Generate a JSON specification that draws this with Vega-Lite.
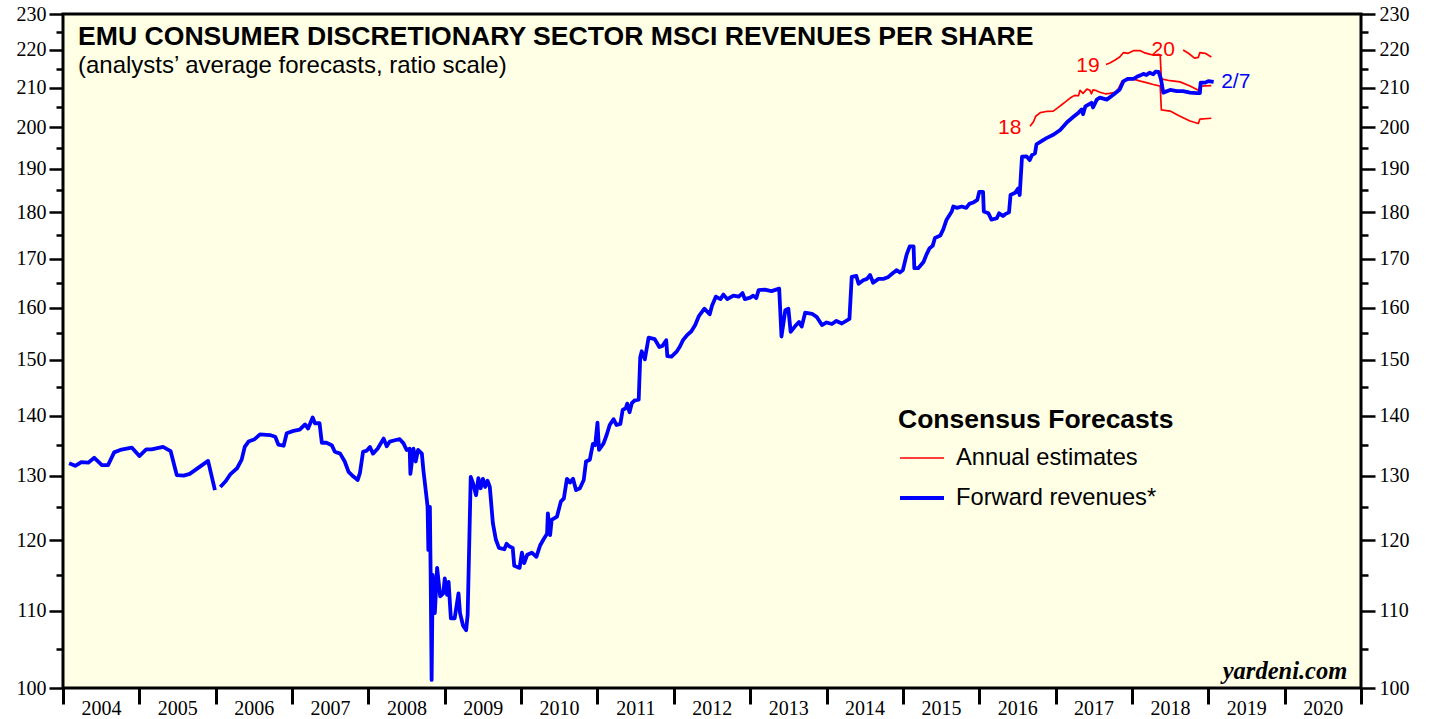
{
  "$schema": "https://vega.github.io/schema/vega-lite/v6.json",
  "width": 1298,
  "height": 674,
  "autosize": {"type": "none"},
  "padding": {"left": 63, "top": 14, "right": 68, "bottom": 31},
  "background": "#FFFFFF",
  "config": {
    "view": {"fill": "#FFFFE6", "stroke": "#000000", "strokeWidth": 3},
    "font": "Liberation Sans"
  },
  "title": {
    "text": "EMU CONSUMER DISCRETIONARY SECTOR MSCI REVENUES PER SHARE",
    "subtitle": "(analysts’ average forecasts, ratio scale)",
    "anchor": "start",
    "frame": "group",
    "offset": -74,
    "dx": 15,
    "font": "Liberation Sans",
    "fontSize": 26.6,
    "fontWeight": "bold",
    "color": "#000000",
    "subtitleFont": "Liberation Sans",
    "subtitleFontSize": 24,
    "subtitleColor": "#000000",
    "subtitlePadding": 3
  },
  "datasets": {
    "est": [
      {"year": 2016.665, "v": 200.2, "series": "Annual estimates", "line": "2018"},
      {"year": 2016.71, "v": 201.3, "series": "Annual estimates", "line": "2018"},
      {"year": 2016.74, "v": 202.7, "series": "Annual estimates", "line": "2018"},
      {"year": 2016.80, "v": 203.6, "series": "Annual estimates", "line": "2018"},
      {"year": 2016.88, "v": 203.9, "series": "Annual estimates", "line": "2018"},
      {"year": 2016.97, "v": 204.0, "series": "Annual estimates", "line": "2018"},
      {"year": 2017.04, "v": 205.0, "series": "Annual estimates", "line": "2018"},
      {"year": 2017.08, "v": 205.6, "series": "Annual estimates", "line": "2018"},
      {"year": 2017.12, "v": 206.2, "series": "Annual estimates", "line": "2018"},
      {"year": 2017.19, "v": 207.3, "series": "Annual estimates", "line": "2018"},
      {"year": 2017.25, "v": 208.0, "series": "Annual estimates", "line": "2018"},
      {"year": 2017.30, "v": 207.9, "series": "Annual estimates", "line": "2018"},
      {"year": 2017.32, "v": 209.3, "series": "Annual estimates", "line": "2018"},
      {"year": 2017.36, "v": 208.5, "series": "Annual estimates", "line": "2018"},
      {"year": 2017.41, "v": 209.6, "series": "Annual estimates", "line": "2018"},
      {"year": 2017.45, "v": 209.3, "series": "Annual estimates", "line": "2018"},
      {"year": 2017.47, "v": 208.4, "series": "Annual estimates", "line": "2018"},
      {"year": 2017.49, "v": 209.4, "series": "Annual estimates", "line": "2018"},
      {"year": 2017.52, "v": 209.3, "series": "Annual estimates", "line": "2018"},
      {"year": 2017.58, "v": 208.8, "series": "Annual estimates", "line": "2018"},
      {"year": 2017.65, "v": 208.4, "series": "Annual estimates", "line": "2018"},
      {"year": 2017.71, "v": 208.5, "series": "Annual estimates", "line": "2018"},
      {"year": 2017.78, "v": 208.8, "series": "Annual estimates", "line": "2018"},
      {"year": 2017.82, "v": 209.6, "series": "Annual estimates", "line": "2018"},
      {"year": 2017.87, "v": 211.7, "series": "Annual estimates", "line": "2018"},
      {"year": 2017.93, "v": 212.0, "series": "Annual estimates", "line": "2018"},
      {"year": 2018.02, "v": 212.2, "series": "Annual estimates", "line": "2018"},
      {"year": 2018.11, "v": 211.7, "series": "Annual estimates", "line": "2018"},
      {"year": 2018.19, "v": 211.3, "series": "Annual estimates", "line": "2018"},
      {"year": 2018.28, "v": 210.8, "series": "Annual estimates", "line": "2018"},
      {"year": 2018.37, "v": 210.4, "series": "Annual estimates", "line": "2018"},
      {"year": 2018.385, "v": 204.3, "series": "Annual estimates", "line": "2018"},
      {"year": 2018.50, "v": 204.0, "series": "Annual estimates", "line": "2018"},
      {"year": 2018.63, "v": 202.7, "series": "Annual estimates", "line": "2018"},
      {"year": 2018.76, "v": 201.5, "series": "Annual estimates", "line": "2018"},
      {"year": 2018.87, "v": 200.9, "series": "Annual estimates", "line": "2018"},
      {"year": 2018.89, "v": 202.0, "series": "Annual estimates", "line": "2018"},
      {"year": 2019.04, "v": 202.2, "series": "Annual estimates", "line": "2018"},
      {"year": 2017.66, "v": 216.1, "series": "Annual estimates", "line": "2019"},
      {"year": 2017.71, "v": 216.5, "series": "Annual estimates", "line": "2019"},
      {"year": 2017.78, "v": 217.3, "series": "Annual estimates", "line": "2019"},
      {"year": 2017.84, "v": 218.1, "series": "Annual estimates", "line": "2019"},
      {"year": 2017.89, "v": 219.3, "series": "Annual estimates", "line": "2019"},
      {"year": 2017.95, "v": 219.1, "series": "Annual estimates", "line": "2019"},
      {"year": 2018.02, "v": 219.8, "series": "Annual estimates", "line": "2019"},
      {"year": 2018.11, "v": 219.8, "series": "Annual estimates", "line": "2019"},
      {"year": 2018.17, "v": 219.2, "series": "Annual estimates", "line": "2019"},
      {"year": 2018.24, "v": 218.8, "series": "Annual estimates", "line": "2019"},
      {"year": 2018.30, "v": 218.6, "series": "Annual estimates", "line": "2019"},
      {"year": 2018.35, "v": 218.8, "series": "Annual estimates", "line": "2019"},
      {"year": 2018.37, "v": 218.6, "series": "Annual estimates", "line": "2019"},
      {"year": 2018.385, "v": 212.3, "series": "Annual estimates", "line": "2019"},
      {"year": 2018.50, "v": 211.8, "series": "Annual estimates", "line": "2019"},
      {"year": 2018.63, "v": 211.5, "series": "Annual estimates", "line": "2019"},
      {"year": 2018.76, "v": 210.4, "series": "Annual estimates", "line": "2019"},
      {"year": 2018.87, "v": 209.3, "series": "Annual estimates", "line": "2019"},
      {"year": 2018.89, "v": 210.4, "series": "Annual estimates", "line": "2019"},
      {"year": 2019.04, "v": 210.5, "series": "Annual estimates", "line": "2019"},
      {"year": 2018.67, "v": 220.0, "series": "Annual estimates", "line": "2020"},
      {"year": 2018.74, "v": 219.1, "series": "Annual estimates", "line": "2020"},
      {"year": 2018.82, "v": 217.8, "series": "Annual estimates", "line": "2020"},
      {"year": 2018.87, "v": 218.0, "series": "Annual estimates", "line": "2020"},
      {"year": 2018.89, "v": 219.3, "series": "Annual estimates", "line": "2020"},
      {"year": 2018.96, "v": 219.1, "series": "Annual estimates", "line": "2020"},
      {"year": 2019.04, "v": 218.1, "series": "Annual estimates", "line": "2020"}
    ],
    "fwd": [
      {"year": 2004.08, "v": 132.0, "series": "Forward revenues*", "line": "a"},
      {"year": 2004.16, "v": 131.6, "series": "Forward revenues*", "line": "a"},
      {"year": 2004.24, "v": 132.2, "series": "Forward revenues*", "line": "a"},
      {"year": 2004.33, "v": 132.1, "series": "Forward revenues*", "line": "a"},
      {"year": 2004.41, "v": 132.9, "series": "Forward revenues*", "line": "a"},
      {"year": 2004.51, "v": 131.7, "series": "Forward revenues*", "line": "a"},
      {"year": 2004.59, "v": 131.7, "series": "Forward revenues*", "line": "a"},
      {"year": 2004.67, "v": 133.8, "series": "Forward revenues*", "line": "a"},
      {"year": 2004.75, "v": 134.2, "series": "Forward revenues*", "line": "a"},
      {"year": 2004.90, "v": 134.6, "series": "Forward revenues*", "line": "a"},
      {"year": 2005.00, "v": 133.2, "series": "Forward revenues*", "line": "a"},
      {"year": 2005.09, "v": 134.3, "series": "Forward revenues*", "line": "a"},
      {"year": 2005.16, "v": 134.3, "series": "Forward revenues*", "line": "a"},
      {"year": 2005.31, "v": 134.7, "series": "Forward revenues*", "line": "a"},
      {"year": 2005.41, "v": 134.0, "series": "Forward revenues*", "line": "a"},
      {"year": 2005.49, "v": 130.1, "series": "Forward revenues*", "line": "a"},
      {"year": 2005.58, "v": 130.0, "series": "Forward revenues*", "line": "a"},
      {"year": 2005.66, "v": 130.3, "series": "Forward revenues*", "line": "a"},
      {"year": 2005.90, "v": 132.4, "series": "Forward revenues*", "line": "a"},
      {"year": 2005.99, "v": 127.7, "series": "Forward revenues*", "line": "a"},
      {"year": 2006.06, "v": 128.2, "series": "Forward revenues*", "line": "b"},
      {"year": 2006.13, "v": 129.1, "series": "Forward revenues*", "line": "b"},
      {"year": 2006.19, "v": 130.2, "series": "Forward revenues*", "line": "b"},
      {"year": 2006.28, "v": 131.2, "series": "Forward revenues*", "line": "b"},
      {"year": 2006.34, "v": 132.6, "series": "Forward revenues*", "line": "b"},
      {"year": 2006.38, "v": 134.7, "series": "Forward revenues*", "line": "b"},
      {"year": 2006.43, "v": 135.6, "series": "Forward revenues*", "line": "b"},
      {"year": 2006.51, "v": 136.0, "series": "Forward revenues*", "line": "b"},
      {"year": 2006.58, "v": 136.8, "series": "Forward revenues*", "line": "b"},
      {"year": 2006.71, "v": 136.7, "series": "Forward revenues*", "line": "b"},
      {"year": 2006.78, "v": 136.4, "series": "Forward revenues*", "line": "b"},
      {"year": 2006.82, "v": 135.1, "series": "Forward revenues*", "line": "b"},
      {"year": 2006.89, "v": 134.9, "series": "Forward revenues*", "line": "b"},
      {"year": 2006.93, "v": 137.0, "series": "Forward revenues*", "line": "b"},
      {"year": 2007.02, "v": 137.4, "series": "Forward revenues*", "line": "b"},
      {"year": 2007.10, "v": 137.6, "series": "Forward revenues*", "line": "b"},
      {"year": 2007.17, "v": 138.5, "series": "Forward revenues*", "line": "b"},
      {"year": 2007.21, "v": 137.8, "series": "Forward revenues*", "line": "b"},
      {"year": 2007.27, "v": 139.7, "series": "Forward revenues*", "line": "b"},
      {"year": 2007.30, "v": 138.7, "series": "Forward revenues*", "line": "b"},
      {"year": 2007.36, "v": 138.7, "series": "Forward revenues*", "line": "b"},
      {"year": 2007.39, "v": 135.4, "series": "Forward revenues*", "line": "b"},
      {"year": 2007.45, "v": 135.4, "series": "Forward revenues*", "line": "b"},
      {"year": 2007.52, "v": 135.0, "series": "Forward revenues*", "line": "b"},
      {"year": 2007.56, "v": 133.9, "series": "Forward revenues*", "line": "b"},
      {"year": 2007.63, "v": 133.6, "series": "Forward revenues*", "line": "b"},
      {"year": 2007.69, "v": 132.3, "series": "Forward revenues*", "line": "b"},
      {"year": 2007.74, "v": 130.6, "series": "Forward revenues*", "line": "b"},
      {"year": 2007.80, "v": 129.9, "series": "Forward revenues*", "line": "b"},
      {"year": 2007.86, "v": 129.3, "series": "Forward revenues*", "line": "b"},
      {"year": 2007.89, "v": 130.5, "series": "Forward revenues*", "line": "b"},
      {"year": 2007.93, "v": 133.9, "series": "Forward revenues*", "line": "b"},
      {"year": 2007.98, "v": 134.1, "series": "Forward revenues*", "line": "b"},
      {"year": 2008.02, "v": 134.7, "series": "Forward revenues*", "line": "b"},
      {"year": 2008.06, "v": 133.6, "series": "Forward revenues*", "line": "b"},
      {"year": 2008.12, "v": 134.4, "series": "Forward revenues*", "line": "b"},
      {"year": 2008.20, "v": 136.1, "series": "Forward revenues*", "line": "b"},
      {"year": 2008.24, "v": 134.8, "series": "Forward revenues*", "line": "b"},
      {"year": 2008.28, "v": 135.6, "series": "Forward revenues*", "line": "b"},
      {"year": 2008.37, "v": 135.9, "series": "Forward revenues*", "line": "b"},
      {"year": 2008.41, "v": 136.0, "series": "Forward revenues*", "line": "b"},
      {"year": 2008.46, "v": 135.3, "series": "Forward revenues*", "line": "b"},
      {"year": 2008.50, "v": 134.2, "series": "Forward revenues*", "line": "b"},
      {"year": 2008.54, "v": 134.4, "series": "Forward revenues*", "line": "b"},
      {"year": 2008.55, "v": 130.3, "series": "Forward revenues*", "line": "b"},
      {"year": 2008.59, "v": 134.4, "series": "Forward revenues*", "line": "b"},
      {"year": 2008.62, "v": 132.3, "series": "Forward revenues*", "line": "b"},
      {"year": 2008.65, "v": 134.2, "series": "Forward revenues*", "line": "b"},
      {"year": 2008.70, "v": 133.6, "series": "Forward revenues*", "line": "b"},
      {"year": 2008.72, "v": 130.9, "series": "Forward revenues*", "line": "b"},
      {"year": 2008.76, "v": 126.7, "series": "Forward revenues*", "line": "b"},
      {"year": 2008.775, "v": 125.1, "series": "Forward revenues*", "line": "b"},
      {"year": 2008.785, "v": 118.6, "series": "Forward revenues*", "line": "b"},
      {"year": 2008.805, "v": 125.1, "series": "Forward revenues*", "line": "b"},
      {"year": 2008.815, "v": 115.2, "series": "Forward revenues*", "line": "b"},
      {"year": 2008.828, "v": 101.0, "series": "Forward revenues*", "line": "b"},
      {"year": 2008.842, "v": 115.0, "series": "Forward revenues*", "line": "b"},
      {"year": 2008.87, "v": 109.7, "series": "Forward revenues*", "line": "b"},
      {"year": 2008.90, "v": 116.0, "series": "Forward revenues*", "line": "b"},
      {"year": 2008.94, "v": 112.0, "series": "Forward revenues*", "line": "b"},
      {"year": 2008.98, "v": 112.4, "series": "Forward revenues*", "line": "b"},
      {"year": 2009.00, "v": 114.5, "series": "Forward revenues*", "line": "b"},
      {"year": 2009.03, "v": 112.2, "series": "Forward revenues*", "line": "b"},
      {"year": 2009.05, "v": 114.0, "series": "Forward revenues*", "line": "b"},
      {"year": 2009.08, "v": 109.0, "series": "Forward revenues*", "line": "b"},
      {"year": 2009.13, "v": 109.0, "series": "Forward revenues*", "line": "b"},
      {"year": 2009.18, "v": 112.4, "series": "Forward revenues*", "line": "b"},
      {"year": 2009.20, "v": 109.7, "series": "Forward revenues*", "line": "b"},
      {"year": 2009.24, "v": 108.0, "series": "Forward revenues*", "line": "b"},
      {"year": 2009.28, "v": 107.4, "series": "Forward revenues*", "line": "b"},
      {"year": 2009.30, "v": 109.5, "series": "Forward revenues*", "line": "b"},
      {"year": 2009.34, "v": 129.8, "series": "Forward revenues*", "line": "b"},
      {"year": 2009.37, "v": 128.8, "series": "Forward revenues*", "line": "b"},
      {"year": 2009.41, "v": 126.9, "series": "Forward revenues*", "line": "b"},
      {"year": 2009.44, "v": 129.6, "series": "Forward revenues*", "line": "b"},
      {"year": 2009.47, "v": 128.0, "series": "Forward revenues*", "line": "b"},
      {"year": 2009.50, "v": 129.5, "series": "Forward revenues*", "line": "b"},
      {"year": 2009.53, "v": 128.2, "series": "Forward revenues*", "line": "b"},
      {"year": 2009.56, "v": 129.2, "series": "Forward revenues*", "line": "b"},
      {"year": 2009.59, "v": 128.2, "series": "Forward revenues*", "line": "b"},
      {"year": 2009.63, "v": 122.6, "series": "Forward revenues*", "line": "b"},
      {"year": 2009.67, "v": 120.1, "series": "Forward revenues*", "line": "b"},
      {"year": 2009.71, "v": 118.9, "series": "Forward revenues*", "line": "b"},
      {"year": 2009.78, "v": 118.7, "series": "Forward revenues*", "line": "b"},
      {"year": 2009.81, "v": 119.5, "series": "Forward revenues*", "line": "b"},
      {"year": 2009.85, "v": 119.1, "series": "Forward revenues*", "line": "b"},
      {"year": 2009.89, "v": 118.9, "series": "Forward revenues*", "line": "b"},
      {"year": 2009.91, "v": 116.3, "series": "Forward revenues*", "line": "b"},
      {"year": 2009.98, "v": 116.0, "series": "Forward revenues*", "line": "b"},
      {"year": 2010.01, "v": 118.2, "series": "Forward revenues*", "line": "b"},
      {"year": 2010.04, "v": 116.7, "series": "Forward revenues*", "line": "b"},
      {"year": 2010.08, "v": 117.9, "series": "Forward revenues*", "line": "b"},
      {"year": 2010.14, "v": 118.2, "series": "Forward revenues*", "line": "b"},
      {"year": 2010.20, "v": 117.6, "series": "Forward revenues*", "line": "b"},
      {"year": 2010.25, "v": 119.3, "series": "Forward revenues*", "line": "b"},
      {"year": 2010.30, "v": 120.3, "series": "Forward revenues*", "line": "b"},
      {"year": 2010.34, "v": 121.0, "series": "Forward revenues*", "line": "b"},
      {"year": 2010.35, "v": 124.1, "series": "Forward revenues*", "line": "b"},
      {"year": 2010.38, "v": 120.8, "series": "Forward revenues*", "line": "b"},
      {"year": 2010.40, "v": 123.1, "series": "Forward revenues*", "line": "b"},
      {"year": 2010.47, "v": 123.6, "series": "Forward revenues*", "line": "b"},
      {"year": 2010.52, "v": 125.9, "series": "Forward revenues*", "line": "b"},
      {"year": 2010.56, "v": 126.4, "series": "Forward revenues*", "line": "b"},
      {"year": 2010.60, "v": 129.5, "series": "Forward revenues*", "line": "b"},
      {"year": 2010.64, "v": 128.9, "series": "Forward revenues*", "line": "b"},
      {"year": 2010.68, "v": 129.5, "series": "Forward revenues*", "line": "b"},
      {"year": 2010.72, "v": 127.7, "series": "Forward revenues*", "line": "b"},
      {"year": 2010.77, "v": 128.0, "series": "Forward revenues*", "line": "b"},
      {"year": 2010.82, "v": 129.3, "series": "Forward revenues*", "line": "b"},
      {"year": 2010.85, "v": 132.3, "series": "Forward revenues*", "line": "b"},
      {"year": 2010.90, "v": 132.6, "series": "Forward revenues*", "line": "b"},
      {"year": 2010.94, "v": 135.2, "series": "Forward revenues*", "line": "b"},
      {"year": 2010.97, "v": 135.0, "series": "Forward revenues*", "line": "b"},
      {"year": 2011.00, "v": 138.8, "series": "Forward revenues*", "line": "b"},
      {"year": 2011.02, "v": 134.2, "series": "Forward revenues*", "line": "b"},
      {"year": 2011.08, "v": 135.3, "series": "Forward revenues*", "line": "b"},
      {"year": 2011.12, "v": 136.7, "series": "Forward revenues*", "line": "b"},
      {"year": 2011.16, "v": 138.4, "series": "Forward revenues*", "line": "b"},
      {"year": 2011.21, "v": 139.4, "series": "Forward revenues*", "line": "b"},
      {"year": 2011.25, "v": 138.4, "series": "Forward revenues*", "line": "b"},
      {"year": 2011.30, "v": 138.6, "series": "Forward revenues*", "line": "b"},
      {"year": 2011.33, "v": 141.0, "series": "Forward revenues*", "line": "b"},
      {"year": 2011.37, "v": 141.3, "series": "Forward revenues*", "line": "b"},
      {"year": 2011.39, "v": 142.1, "series": "Forward revenues*", "line": "b"},
      {"year": 2011.42, "v": 140.6, "series": "Forward revenues*", "line": "b"},
      {"year": 2011.45, "v": 142.2, "series": "Forward revenues*", "line": "b"},
      {"year": 2011.49, "v": 142.7, "series": "Forward revenues*", "line": "b"},
      {"year": 2011.54, "v": 142.8, "series": "Forward revenues*", "line": "b"},
      {"year": 2011.56, "v": 150.5, "series": "Forward revenues*", "line": "b"},
      {"year": 2011.58, "v": 151.6, "series": "Forward revenues*", "line": "b"},
      {"year": 2011.62, "v": 150.1, "series": "Forward revenues*", "line": "b"},
      {"year": 2011.67, "v": 154.2, "series": "Forward revenues*", "line": "b"},
      {"year": 2011.75, "v": 153.9, "series": "Forward revenues*", "line": "b"},
      {"year": 2011.81, "v": 152.4, "series": "Forward revenues*", "line": "b"},
      {"year": 2011.85, "v": 152.6, "series": "Forward revenues*", "line": "b"},
      {"year": 2011.90, "v": 153.7, "series": "Forward revenues*", "line": "b"},
      {"year": 2011.915, "v": 150.7, "series": "Forward revenues*", "line": "b"},
      {"year": 2011.97, "v": 150.6, "series": "Forward revenues*", "line": "b"},
      {"year": 2012.04, "v": 151.6, "series": "Forward revenues*", "line": "b"},
      {"year": 2012.08, "v": 152.5, "series": "Forward revenues*", "line": "b"},
      {"year": 2012.12, "v": 153.7, "series": "Forward revenues*", "line": "b"},
      {"year": 2012.17, "v": 154.6, "series": "Forward revenues*", "line": "b"},
      {"year": 2012.23, "v": 155.4, "series": "Forward revenues*", "line": "b"},
      {"year": 2012.28, "v": 156.6, "series": "Forward revenues*", "line": "b"},
      {"year": 2012.33, "v": 158.4, "series": "Forward revenues*", "line": "b"},
      {"year": 2012.40, "v": 159.8, "series": "Forward revenues*", "line": "b"},
      {"year": 2012.47, "v": 158.7, "series": "Forward revenues*", "line": "b"},
      {"year": 2012.50, "v": 160.4, "series": "Forward revenues*", "line": "b"},
      {"year": 2012.55, "v": 162.2, "series": "Forward revenues*", "line": "b"},
      {"year": 2012.61, "v": 161.7, "series": "Forward revenues*", "line": "b"},
      {"year": 2012.65, "v": 162.6, "series": "Forward revenues*", "line": "b"},
      {"year": 2012.70, "v": 161.7, "series": "Forward revenues*", "line": "b"},
      {"year": 2012.78, "v": 162.4, "series": "Forward revenues*", "line": "b"},
      {"year": 2012.85, "v": 162.2, "series": "Forward revenues*", "line": "b"},
      {"year": 2012.90, "v": 162.9, "series": "Forward revenues*", "line": "b"},
      {"year": 2012.93, "v": 161.7, "series": "Forward revenues*", "line": "b"},
      {"year": 2013.00, "v": 162.0, "series": "Forward revenues*", "line": "b"},
      {"year": 2013.04, "v": 162.4, "series": "Forward revenues*", "line": "b"},
      {"year": 2013.08, "v": 161.9, "series": "Forward revenues*", "line": "b"},
      {"year": 2013.11, "v": 163.5, "series": "Forward revenues*", "line": "b"},
      {"year": 2013.19, "v": 163.6, "series": "Forward revenues*", "line": "b"},
      {"year": 2013.28, "v": 163.3, "series": "Forward revenues*", "line": "b"},
      {"year": 2013.38, "v": 163.8, "series": "Forward revenues*", "line": "b"},
      {"year": 2013.41, "v": 154.4, "series": "Forward revenues*", "line": "b"},
      {"year": 2013.46, "v": 159.5, "series": "Forward revenues*", "line": "b"},
      {"year": 2013.50, "v": 159.8, "series": "Forward revenues*", "line": "b"},
      {"year": 2013.53, "v": 155.3, "series": "Forward revenues*", "line": "b"},
      {"year": 2013.59, "v": 156.4, "series": "Forward revenues*", "line": "b"},
      {"year": 2013.64, "v": 157.2, "series": "Forward revenues*", "line": "b"},
      {"year": 2013.675, "v": 156.3, "series": "Forward revenues*", "line": "b"},
      {"year": 2013.72, "v": 159.0, "series": "Forward revenues*", "line": "b"},
      {"year": 2013.81, "v": 158.8, "series": "Forward revenues*", "line": "b"},
      {"year": 2013.87, "v": 158.2, "series": "Forward revenues*", "line": "b"},
      {"year": 2013.94, "v": 156.6, "series": "Forward revenues*", "line": "b"},
      {"year": 2014.00, "v": 157.1, "series": "Forward revenues*", "line": "b"},
      {"year": 2014.07, "v": 156.8, "series": "Forward revenues*", "line": "b"},
      {"year": 2014.13, "v": 157.4, "series": "Forward revenues*", "line": "b"},
      {"year": 2014.20, "v": 156.9, "series": "Forward revenues*", "line": "b"},
      {"year": 2014.30, "v": 157.8, "series": "Forward revenues*", "line": "b"},
      {"year": 2014.33, "v": 166.2, "series": "Forward revenues*", "line": "b"},
      {"year": 2014.39, "v": 166.4, "series": "Forward revenues*", "line": "b"},
      {"year": 2014.42, "v": 164.8, "series": "Forward revenues*", "line": "b"},
      {"year": 2014.48, "v": 165.5, "series": "Forward revenues*", "line": "b"},
      {"year": 2014.53, "v": 165.8, "series": "Forward revenues*", "line": "b"},
      {"year": 2014.57, "v": 166.6, "series": "Forward revenues*", "line": "b"},
      {"year": 2014.61, "v": 165.0, "series": "Forward revenues*", "line": "b"},
      {"year": 2014.68, "v": 165.8, "series": "Forward revenues*", "line": "b"},
      {"year": 2014.75, "v": 165.8, "series": "Forward revenues*", "line": "b"},
      {"year": 2014.81, "v": 166.2, "series": "Forward revenues*", "line": "b"},
      {"year": 2014.87, "v": 167.0, "series": "Forward revenues*", "line": "b"},
      {"year": 2014.92, "v": 167.6, "series": "Forward revenues*", "line": "b"},
      {"year": 2014.96, "v": 167.1, "series": "Forward revenues*", "line": "b"},
      {"year": 2015.00, "v": 167.6, "series": "Forward revenues*", "line": "b"},
      {"year": 2015.05, "v": 170.9, "series": "Forward revenues*", "line": "b"},
      {"year": 2015.09, "v": 172.6, "series": "Forward revenues*", "line": "b"},
      {"year": 2015.14, "v": 172.6, "series": "Forward revenues*", "line": "b"},
      {"year": 2015.15, "v": 168.0, "series": "Forward revenues*", "line": "b"},
      {"year": 2015.20, "v": 168.0, "series": "Forward revenues*", "line": "b"},
      {"year": 2015.27, "v": 169.3, "series": "Forward revenues*", "line": "b"},
      {"year": 2015.31, "v": 170.9, "series": "Forward revenues*", "line": "b"},
      {"year": 2015.35, "v": 172.2, "series": "Forward revenues*", "line": "b"},
      {"year": 2015.39, "v": 172.7, "series": "Forward revenues*", "line": "b"},
      {"year": 2015.42, "v": 174.4, "series": "Forward revenues*", "line": "b"},
      {"year": 2015.49, "v": 174.9, "series": "Forward revenues*", "line": "b"},
      {"year": 2015.53, "v": 176.3, "series": "Forward revenues*", "line": "b"},
      {"year": 2015.57, "v": 178.3, "series": "Forward revenues*", "line": "b"},
      {"year": 2015.64, "v": 180.2, "series": "Forward revenues*", "line": "b"},
      {"year": 2015.66, "v": 181.3, "series": "Forward revenues*", "line": "b"},
      {"year": 2015.71, "v": 181.0, "series": "Forward revenues*", "line": "b"},
      {"year": 2015.77, "v": 181.3, "series": "Forward revenues*", "line": "b"},
      {"year": 2015.83, "v": 181.0, "series": "Forward revenues*", "line": "b"},
      {"year": 2015.87, "v": 181.9, "series": "Forward revenues*", "line": "b"},
      {"year": 2015.92, "v": 182.2, "series": "Forward revenues*", "line": "b"},
      {"year": 2015.975, "v": 182.8, "series": "Forward revenues*", "line": "b"},
      {"year": 2016.00, "v": 184.6, "series": "Forward revenues*", "line": "b"},
      {"year": 2016.05, "v": 184.6, "series": "Forward revenues*", "line": "b"},
      {"year": 2016.06, "v": 180.2, "series": "Forward revenues*", "line": "b"},
      {"year": 2016.12, "v": 179.8, "series": "Forward revenues*", "line": "b"},
      {"year": 2016.16, "v": 178.4, "series": "Forward revenues*", "line": "b"},
      {"year": 2016.23, "v": 178.7, "series": "Forward revenues*", "line": "b"},
      {"year": 2016.26, "v": 179.8, "series": "Forward revenues*", "line": "b"},
      {"year": 2016.31, "v": 179.2, "series": "Forward revenues*", "line": "b"},
      {"year": 2016.34, "v": 179.6, "series": "Forward revenues*", "line": "b"},
      {"year": 2016.39, "v": 180.0, "series": "Forward revenues*", "line": "b"},
      {"year": 2016.41, "v": 183.9, "series": "Forward revenues*", "line": "b"},
      {"year": 2016.47, "v": 184.4, "series": "Forward revenues*", "line": "b"},
      {"year": 2016.51, "v": 185.4, "series": "Forward revenues*", "line": "b"},
      {"year": 2016.53, "v": 183.9, "series": "Forward revenues*", "line": "b"},
      {"year": 2016.56, "v": 192.8, "series": "Forward revenues*", "line": "b"},
      {"year": 2016.62, "v": 192.9, "series": "Forward revenues*", "line": "b"},
      {"year": 2016.66, "v": 192.0, "series": "Forward revenues*", "line": "b"},
      {"year": 2016.69, "v": 193.2, "series": "Forward revenues*", "line": "b"},
      {"year": 2016.73, "v": 193.6, "series": "Forward revenues*", "line": "b"},
      {"year": 2016.75, "v": 195.8, "series": "Forward revenues*", "line": "b"},
      {"year": 2016.80, "v": 196.4, "series": "Forward revenues*", "line": "b"},
      {"year": 2016.88, "v": 197.3, "series": "Forward revenues*", "line": "b"},
      {"year": 2016.97, "v": 198.1, "series": "Forward revenues*", "line": "b"},
      {"year": 2017.06, "v": 199.3, "series": "Forward revenues*", "line": "b"},
      {"year": 2017.15, "v": 201.2, "series": "Forward revenues*", "line": "b"},
      {"year": 2017.23, "v": 202.5, "series": "Forward revenues*", "line": "b"},
      {"year": 2017.30, "v": 203.6, "series": "Forward revenues*", "line": "b"},
      {"year": 2017.34, "v": 204.4, "series": "Forward revenues*", "line": "b"},
      {"year": 2017.36, "v": 203.2, "series": "Forward revenues*", "line": "b"},
      {"year": 2017.39, "v": 205.2, "series": "Forward revenues*", "line": "b"},
      {"year": 2017.47, "v": 206.1, "series": "Forward revenues*", "line": "b"},
      {"year": 2017.49, "v": 204.9, "series": "Forward revenues*", "line": "b"},
      {"year": 2017.54, "v": 206.9, "series": "Forward revenues*", "line": "b"},
      {"year": 2017.58, "v": 207.4, "series": "Forward revenues*", "line": "b"},
      {"year": 2017.67, "v": 206.9, "series": "Forward revenues*", "line": "b"},
      {"year": 2017.76, "v": 208.2, "series": "Forward revenues*", "line": "b"},
      {"year": 2017.84, "v": 209.5, "series": "Forward revenues*", "line": "b"},
      {"year": 2017.89, "v": 211.7, "series": "Forward revenues*", "line": "b"},
      {"year": 2017.95, "v": 212.3, "series": "Forward revenues*", "line": "b"},
      {"year": 2018.02, "v": 212.3, "series": "Forward revenues*", "line": "b"},
      {"year": 2018.07, "v": 212.9, "series": "Forward revenues*", "line": "b"},
      {"year": 2018.11, "v": 213.2, "series": "Forward revenues*", "line": "b"},
      {"year": 2018.15, "v": 213.6, "series": "Forward revenues*", "line": "b"},
      {"year": 2018.19, "v": 213.3, "series": "Forward revenues*", "line": "b"},
      {"year": 2018.23, "v": 213.9, "series": "Forward revenues*", "line": "b"},
      {"year": 2018.28, "v": 213.5, "series": "Forward revenues*", "line": "b"},
      {"year": 2018.31, "v": 214.2, "series": "Forward revenues*", "line": "b"},
      {"year": 2018.35, "v": 214.1, "series": "Forward revenues*", "line": "b"},
      {"year": 2018.38, "v": 212.2, "series": "Forward revenues*", "line": "b"},
      {"year": 2018.41, "v": 208.7, "series": "Forward revenues*", "line": "b"},
      {"year": 2018.50, "v": 209.4, "series": "Forward revenues*", "line": "b"},
      {"year": 2018.59, "v": 209.1, "series": "Forward revenues*", "line": "b"},
      {"year": 2018.67, "v": 209.1, "series": "Forward revenues*", "line": "b"},
      {"year": 2018.76, "v": 208.7, "series": "Forward revenues*", "line": "b"},
      {"year": 2018.85, "v": 208.6, "series": "Forward revenues*", "line": "b"},
      {"year": 2018.89, "v": 208.6, "series": "Forward revenues*", "line": "b"},
      {"year": 2018.90, "v": 211.3, "series": "Forward revenues*", "line": "b"},
      {"year": 2018.96, "v": 211.3, "series": "Forward revenues*", "line": "b"},
      {"year": 2019.00, "v": 211.7, "series": "Forward revenues*", "line": "b"},
      {"year": 2019.07, "v": 211.5, "series": "Forward revenues*", "line": "b"}
    ],
    "labels": [
      {"year": 2016.40, "v": 199.8, "label": "18", "series": "Annual estimates"},
      {"year": 2017.425, "v": 215.7, "label": "19", "series": "Annual estimates"},
      {"year": 2018.41, "v": 220.0, "label": "20", "series": "Annual estimates"},
      {"year": 2019.36, "v": 211.5, "label": "2/7", "series": "Forward revenues*"}
    ],
    "credit": [
      {"year": 2020.82, "v": 102.0, "label": "yardeni.com"}
    ]
  },
  "resolve": {"axis": {"y": "independent"}},
  "encoding": {
    "x": {
      "field": "year", "type": "quantitative",
      "scale": {"domain": [2004, 2021], "nice": false, "zero": false},
      "axis": {
        "title": null, "values": [2004, 2005, 2006, 2007, 2008, 2009, 2010, 2011, 2012, 2013, 2014, 2015, 2016, 2017, 2018, 2019, 2020, 2021],
        "format": "d", "labelExpr": "datum.value == 2021 ? '' : datum.label",
        "grid": false, "domain": false, "tickColor": "#000000", "tickWidth": 3, "tickSize": 16,
        "labelOffset": 38, "labelPadding": -6, "labelFont": "Liberation Serif", "labelFontSize": 20,
        "labelColor": "#000000", "labelFlush": false, "labelOverlap": false, "labelBaseline": "top"
      }
    }
  },
  "layer": [
    {
      "data": {"name": "est"},
      "mark": {"type": "line", "clip": true, "strokeJoin": "round"},
      "encoding": {
        "y": {
          "field": "v", "type": "quantitative",
          "scale": {"type": "log", "domain": [100, 230], "nice": false, "zero": false},
          "axis": {
            "orient": "left", "title": null,
            "values": [100, 105, 110, 115, 120, 125, 130, 135, 140, 145, 150, 155, 160, 165, 170, 175, 180, 185, 190, 195, 200, 205, 210, 215, 220, 225, 230],
            "labelExpr": "datum.value % 10 == 0 ? datum.value : ''",
            "grid": false, "domain": false, "tickColor": "#000000", "tickWidth": 2.5,
            "tickSize": {"condition": {"test": "datum.value % 10 == 0", "value": 14}, "value": 7},
            "labelPadding": 3, "labelFont": "Liberation Serif", "labelFontSize": 20, "labelColor": "#000000",
            "labelFlush": false, "labelOverlap": false
          }
        },
        "color": {
          "field": "series", "type": "nominal",
          "scale": {"domain": ["Annual estimates", "Forward revenues*"], "range": ["#FF0000", "#0000FF"]},
          "legend": {
            "title": "Consensus Forecasts", "orient": "none", "legendX": 835, "legendY": 393,
            "titleFont": "Liberation Sans", "titleFontSize": 26.5, "titleFontWeight": "bold", "titleColor": "#000000",
            "titlePadding": 1.5, "titleLimit": 0, "labelLimit": 0, "labelFont": "Liberation Sans", "labelFontSize": 23.7, "labelColor": "#000000",
            "symbolType": "stroke", "symbolSize": 1936, "labelOffset": 10, "rowPadding": 4
          }
        },
        "strokeWidth": {
          "field": "series", "type": "nominal",
          "scale": {"domain": ["Annual estimates", "Forward revenues*"], "range": [1.7, 3.8]},
          "legend": {
            "title": "Consensus Forecasts", "orient": "none", "legendX": 835, "legendY": 393,
            "titleFont": "Liberation Sans", "titleFontSize": 26.5, "titleFontWeight": "bold", "titleColor": "#000000",
            "titlePadding": 1.5, "titleLimit": 0, "labelLimit": 0, "labelFont": "Liberation Sans", "labelFontSize": 23.7, "labelColor": "#000000",
            "symbolType": "stroke", "symbolSize": 1936, "labelOffset": 10, "rowPadding": 4
          }
        },
        "detail": {"field": "line", "type": "nominal"},
        "order": {"field": "year", "type": "quantitative"}
      }
    },
    {
      "data": {"name": "fwd"},
      "mark": {"type": "line", "clip": true, "strokeJoin": "round"},
      "encoding": {
        "y": {
          "field": "v", "type": "quantitative",
          "axis": {
            "orient": "right", "title": null,
            "values": [100, 105, 110, 115, 120, 125, 130, 135, 140, 145, 150, 155, 160, 165, 170, 175, 180, 185, 190, 195, 200, 205, 210, 215, 220, 225, 230],
            "labelExpr": "datum.value % 10 == 0 ? datum.value : ''",
            "grid": false, "domain": false, "tickColor": "#000000", "tickWidth": 2.5,
            "tickSize": {"condition": {"test": "datum.value % 10 == 0", "value": 14}, "value": 7},
            "labelPadding": 4, "labelFont": "Liberation Serif", "labelFontSize": 20, "labelColor": "#000000",
            "labelFlush": false, "labelOverlap": false
          }
        },
        "color": {"field": "series", "type": "nominal"},
        "strokeWidth": {"field": "series", "type": "nominal"},
        "detail": {"field": "line", "type": "nominal"},
        "order": {"field": "year", "type": "quantitative"}
      }
    },
    {
      "data": {"name": "labels"},
      "mark": {"type": "text", "font": "Liberation Sans", "fontSize": 21, "align": "center", "baseline": "middle"},
      "encoding": {
        "y": {"field": "v", "type": "quantitative", "axis": null},
        "text": {"field": "label"},
        "color": {"field": "series", "type": "nominal"}
      }
    },
    {
      "data": {"name": "credit"},
      "mark": {"type": "text", "font": "Liberation Serif", "fontSize": 24.5, "fontWeight": "bold", "fontStyle": "italic", "align": "right", "baseline": "middle", "color": "#000000"},
      "encoding": {
        "y": {"field": "v", "type": "quantitative", "axis": null},
        "text": {"field": "label"}
      }
    }
  ]
}
